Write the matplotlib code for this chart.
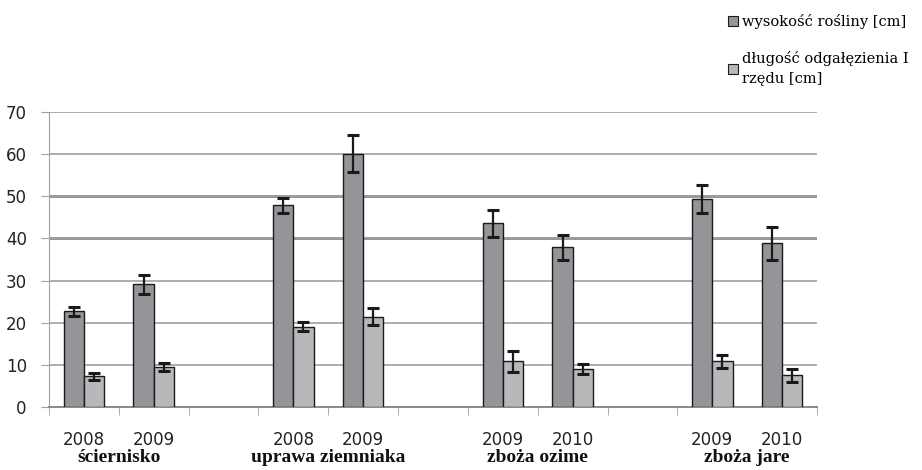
import numpy as np
import matplotlib.pyplot as plt
from matplotlib.patches import Patch
from matplotlib.transforms import blended_transform_factory

# slots on the x axis (empty strings = gaps between groups)
years = ['2008', '2009', '', '2008', '2009', '', '2009', '2010', '', '2009', '2010']
groups = ['ściernisko', 'uprawa ziemniaka', 'zboża ozime', 'zboża jare']
group_slots = [(0, 1), (3, 4), (6, 7), (9, 10)]

height = [22.7, 29.1, 47.8, 60.1, 43.6, 37.9, 49.3, 38.8]
height_err = [1.0, 2.2, 1.8, 4.4, 3.2, 3.0, 3.4, 3.9]
branch = [7.3, 9.5, 19.1, 21.5, 10.9, 9.0, 10.9, 7.6]
branch_err = [0.9, 0.9, 1.1, 2.0, 2.5, 1.2, 1.5, 1.5]

label_height = 'wysokość rośliny [cm]'
label_branch = 'długość odgałęzienia I\nrzędu [cm]'

dark = '#939598'
light = '#b7b8ba'
grid = '#a0a0a0'

fig = plt.figure(figsize=(9.22, 4.70), dpi=100)
ax = fig.add_axes([49 / 922, 1 - 407.3 / 470, (817 - 49) / 922, 295.6 / 470])

pos = np.array([s for pair in group_slots for s in pair], dtype=float)
w = 0.29
err_kw = dict(ecolor='#1a1a1a', elinewidth=1.6, capsize=4.5, capthick=2.2)
ax.bar(pos - w / 2, height, w, yerr=height_err, color=dark, edgecolor='#1a1a1a',
       linewidth=1.0, error_kw=err_kw, zorder=3, label=label_height)
ax.bar(pos + w / 2, branch, w, yerr=branch_err, color=light, edgecolor='#1a1a1a',
       linewidth=1.0, error_kw=err_kw, zorder=3, label=label_branch)

ax.set_xlim(-0.5, 10.5)
ax.set_ylim(0, 70)
ax.set_yticks(range(0, 71, 10))
ax.yaxis.grid(True, color=grid, linewidth=1.2, zorder=0)
for lvl in (40, 50):
    ax.axhline(lvl, color='#8a8a8a', linewidth=2.0, zorder=1)

for side in ('top', 'right'):
    ax.spines[side].set_visible(False)
ax.spines['left'].set_color(grid)
ax.spines['bottom'].set_color('#8a8a8a')
ax.spines['bottom'].set_linewidth(1.4)
ax.tick_params(axis='y', colors=grid, length=6, labelcolor='#222222',
               labelsize=12, pad=10)

# year labels under each slot, tick marks on the slot boundaries
ax.set_xticks(range(len(years)))
ax.set_xticklabels(years, fontsize=12, color='#222222')
ax.tick_params(axis='x', which='major', length=0, pad=17)
bounds = [b - 0.5 for b in range(12) if b != 10]
ax.set_xticks(bounds, minor=True)
ax.tick_params(axis='x', which='minor', length=6, color=grid)

tr = blended_transform_factory(ax.transData, fig.transFigure)
for name, (a, b) in zip(groups, group_slots):
    ax.text((a + b) / 2, 1 - 458 / 470, name, transform=tr, ha='center',
            va='center', fontsize=14, fontweight='bold',
            family='Liberation Serif', color='#111111')

handles = [Patch(facecolor=dark, edgecolor='#1a1a1a', linewidth=0.8),
           Patch(facecolor=light, edgecolor='#1a1a1a', linewidth=0.8)]
leg = fig.legend(handles, [label_height, label_branch], loc='upper left',
                 bbox_to_anchor=(722 / 922, 1 - 8 / 470), frameon=False,
                 prop={'family': 'DejaVu Serif', 'size': 10.5},
                 handlelength=0.7, handleheight=0.7, handletextpad=0.3,
                 labelspacing=1.5, borderaxespad=0)
leg.get_texts()[1].set_linespacing(1.6)

fig.savefig('out.png', dpi=100)
